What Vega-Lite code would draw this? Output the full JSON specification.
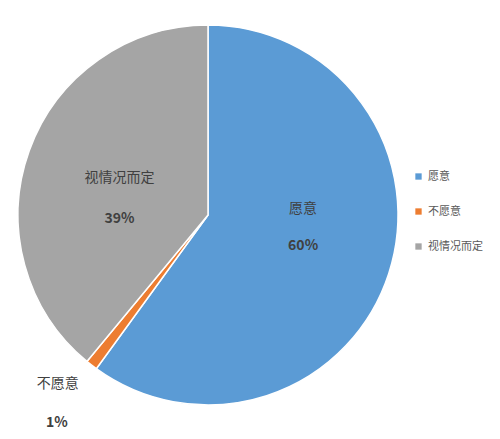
{
  "$schema": "https://vega.github.io/schema/vega-lite/v6.json",
  "autosize": "none",
  "width": 416,
  "height": 430,
  "padding": {"left": 0, "top": 0, "right": 84, "bottom": 9},
  "background": "white",
  "config": {"view": {"stroke": null}, "font": "Noto Sans CJK SC"},
  "data": {
    "values": [
      {"n": 1, "cat": "愿意", "value": 60, "pct": "60%"},
      {"n": 2, "cat": "不愿意", "value": 1, "pct": "1%"},
      {"n": 3, "cat": "视情况而定", "value": 39, "pct": "39%"}
    ]
  },
  "encoding": {
    "theta": {"field": "value", "type": "quantitative", "stack": true},
    "order": {"field": "n", "type": "quantitative", "sort": "ascending"}
  },
  "layer": [
    {
      "mark": {"type": "arc", "outerRadius": 190, "stroke": "white", "strokeWidth": 1.5},
      "encoding": {
        "color": {
          "field": "cat",
          "type": "nominal",
          "sort": ["愿意", "不愿意", "视情况而定"],
          "scale": {"domain": ["愿意", "不愿意", "视情况而定"], "range": ["#5B9BD5", "#ED7D31", "#A5A5A5"]},
          "legend": {
            "title": null,
            "orient": "none",
            "legendX": 413,
            "legendY": 171,
            "symbolType": "square",
            "symbolSize": 40,
            "symbolStrokeWidth": 0,
            "labelFontSize": 11,
            "labelColor": "#595959",
            "labelOffset": 4,
            "rowPadding": 23
          }
        }
      }
    },
    {
      "mark": {"type": "text", "radius": 100, "dy": -37, "fontSize": 14, "color": "#404040"},
      "encoding": {"text": {"condition": {"test": "datum.cat === '愿意'", "field": "cat"}, "value": ""}}
    },
    {
      "mark": {"type": "text", "radius": 100, "dy": 0, "fontSize": 14, "fontWeight": "bold", "color": "#404040"},
      "encoding": {"text": {"condition": {"test": "datum.cat === '愿意'", "field": "pct"}, "value": ""}}
    },
    {
      "mark": {"type": "text", "radius": 94, "dy": -5, "fontSize": 14, "color": "#404040"},
      "encoding": {"text": {"condition": {"test": "datum.cat === '视情况而定'", "field": "cat"}, "value": ""}}
    },
    {
      "mark": {"type": "text", "radius": 94, "dy": 36, "fontSize": 14, "fontWeight": "bold", "color": "#404040"},
      "encoding": {"text": {"condition": {"test": "datum.cat === '视情况而定'", "field": "pct"}, "value": ""}}
    },
    {
      "mark": {"type": "text", "radius": 250, "dx": 3, "dy": -29, "fontSize": 14, "color": "#404040"},
      "encoding": {"text": {"condition": {"test": "datum.cat === '不愿意'", "field": "cat"}, "value": ""}}
    },
    {
      "mark": {"type": "text", "radius": 250, "dx": 2, "dy": 10, "fontSize": 14, "fontWeight": "bold", "color": "#404040"},
      "encoding": {"text": {"condition": {"test": "datum.cat === '不愿意'", "field": "pct"}, "value": ""}}
    }
  ]
}
